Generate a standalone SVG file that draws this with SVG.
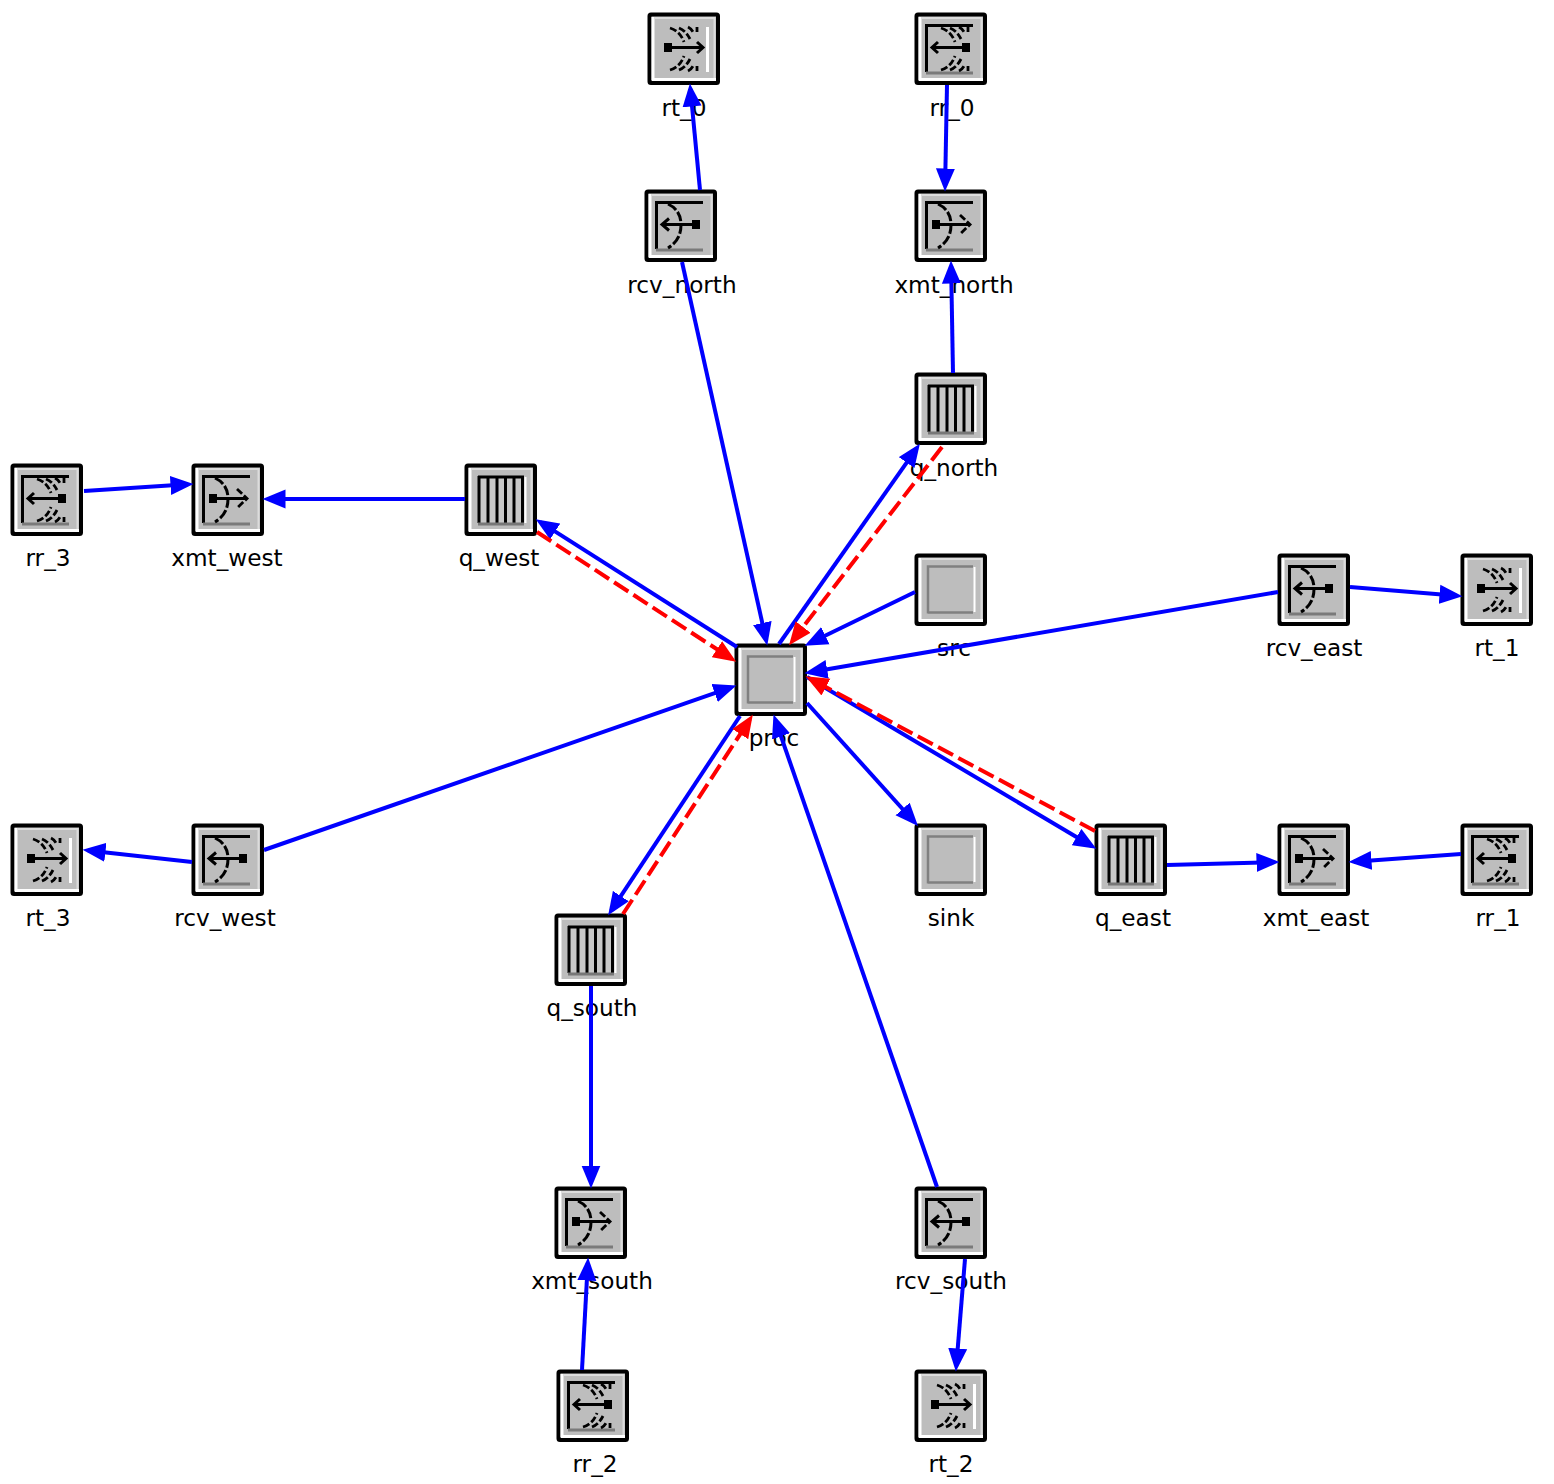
<svg xmlns="http://www.w3.org/2000/svg" xmlns:xlink="http://www.w3.org/1999/xlink" width="1554" height="1484" viewBox="0 0 1554 1484">
<style>
text{font-family:"DejaVu Sans","Liberation Sans",sans-serif;font-size:23.2px;fill:#000;text-anchor:middle}
.b{stroke:#0000ff;stroke-width:4;fill:none;marker-end:url(#ab)}
.r{stroke:#ff0000;stroke-width:4;fill:none;stroke-dasharray:17 6;marker-end:url(#ar)}
.k{stroke:#000;stroke-width:3;fill:none}
.d{stroke:#000;stroke-width:2.800;fill:none;stroke-dasharray:7 2.500}
.c{stroke:#000;stroke-width:3;fill:none;stroke-dasharray:10 2.500}
.f{stroke:#000;stroke-width:3;fill:none}
.g{stroke:#7a7a7a;stroke-width:3;fill:none}
</style>
<defs>
<marker id="ab" markerUnits="userSpaceOnUse" markerWidth="24" markerHeight="20" refX="17.500" refY="10" orient="auto"><path d="M0 0.500L23 10L0 19.500z" fill="#0000ff"/></marker>
<marker id="ar" markerUnits="userSpaceOnUse" markerWidth="24" markerHeight="20" refX="17.500" refY="10" orient="auto"><path d="M0 0.500L23 10L0 19.500z" fill="#ff0000"/></marker>
<g id="box">
<rect x="1.500" y="1.500" width="68.500" height="68.500" rx="1.500" fill="#bdbdbd" stroke="#000" stroke-width="4"/>
<path d="M4 66.500H68M5 4V67" stroke="#fff" stroke-width="3" fill="none"/>
<path d="M6 5H66.500V65" stroke="#dcdcdc" stroke-width="2" fill="none"/>
</g>
<g id="plain"><use xlink:href="#box"/>
<path d="M13 59.500V12.500H58M13 58.500H58" stroke="#808080" stroke-width="2.500" fill="none"/><path d="M59.500 13V58" stroke="#fff" stroke-width="2" fill="none"/></g>
<g id="queue"><use xlink:href="#box"/>
<rect x="14" y="12" width="46" height="47" fill="#c8c8c8"/>
<path d="M13 13H59M14 12V59M23 12V59M32 12V59M40.500 12V59M49 12V59M57.500 12V59" class="f"/>
<path d="M13 60H59" stroke="#777" stroke-width="3" fill="none"/><path d="M60.500 13V59" stroke="#fff" stroke-width="2" fill="none"/></g>
<g id="wav">
<path class="d" d="M26 15Q36 18 40 29M35 15Q42 18 46 26M44 14Q48 16 50 21M53 14V19M26 57Q36 54 40 43M35 57Q42 54 46 46M44 58Q48 56 50 51M53 58V53"/>
</g>
<g id="frame"><path class="f" d="M11.500 59V12.500H58"/><path class="g" d="M11 60H58"/></g>
<g id="rt"><use xlink:href="#box"/>
<path d="M59.500 14V59" stroke="#fff" stroke-width="3"/>
<path class="k" d="M20 34.500H55M49 29L55 34.500L49 40"/><rect x="16" y="30" width="8" height="9" fill="#000"/>
<use xlink:href="#wav" x="-4"/></g>
<g id="rr"><use xlink:href="#box"/><use xlink:href="#frame"/>
<path class="k" d="M17 34.500H52M23 29L17 34.500L23 40"/><rect x="47" y="30" width="8" height="9" fill="#000"/>
<use xlink:href="#wav"/></g>
<g id="rcv"><use xlink:href="#box"/><use xlink:href="#frame"/>
<path class="k" d="M17 34.500H52M24 28.500L17 34.500L24 40.500"/><rect x="47" y="30" width="8" height="9" fill="#000"/>
<path class="c" d="M23 14Q36 20 36 35Q36 50 23 58"/></g>
<g id="xmt"><use xlink:href="#box"/><use xlink:href="#frame"/>
<path class="k" d="M20 34.500H55"/><path class="d" d="M45 25L55 34.500L45 44"/><rect x="17" y="30" width="8" height="9" fill="#000"/>
<path class="c" d="M23 14Q36 20 36 35Q36 50 23 58"/></g>
</defs>
<g id="n-rt_0"><use xlink:href="#rt" x="648" y="13"/><text x="684" y="116">rt_0</text></g>
<g id="n-rr_0"><use xlink:href="#rr" x="915" y="13"/><text x="952" y="116">rr_0</text></g>
<g id="n-rcv_north"><use xlink:href="#rcv" x="645" y="190"/><text x="682" y="293">rcv_north</text></g>
<g id="n-xmt_north"><use xlink:href="#xmt" x="915" y="190"/><text x="954" y="293">xmt_north</text></g>
<g id="n-q_north"><use xlink:href="#queue" x="915" y="373"/><text x="954" y="476">q_north</text></g>
<g id="n-q_west"><use xlink:href="#queue" x="465" y="464"/><text x="499" y="566">q_west</text></g>
<g id="n-xmt_west"><use xlink:href="#xmt" x="192" y="464"/><text x="227" y="566">xmt_west</text></g>
<g id="n-rr_3"><use xlink:href="#rr" x="11" y="464"/><text x="48" y="566">rr_3</text></g>
<g id="n-src"><use xlink:href="#plain" x="915" y="554"/><text x="954" y="656">src</text></g>
<g id="n-rcv_east"><use xlink:href="#rcv" x="1278" y="554"/><text x="1314" y="656">rcv_east</text></g>
<g id="n-rt_1"><use xlink:href="#rt" x="1461" y="554"/><text x="1497" y="656">rt_1</text></g>
<g id="n-proc"><use xlink:href="#plain" x="735" y="644"/><text x="774" y="746">proc</text></g>
<g id="n-rt_3"><use xlink:href="#rt" x="11" y="824"/><text x="48" y="926">rt_3</text></g>
<g id="n-rcv_west"><use xlink:href="#rcv" x="192" y="824"/><text x="225" y="926">rcv_west</text></g>
<g id="n-sink"><use xlink:href="#plain" x="915" y="824"/><text x="951" y="926">sink</text></g>
<g id="n-q_east"><use xlink:href="#queue" x="1095" y="824"/><text x="1133" y="926">q_east</text></g>
<g id="n-xmt_east"><use xlink:href="#xmt" x="1278" y="824"/><text x="1316" y="926">xmt_east</text></g>
<g id="n-rr_1"><use xlink:href="#rr" x="1461" y="824"/><text x="1498" y="926">rr_1</text></g>
<g id="n-q_south"><use xlink:href="#queue" x="555" y="914"/><text x="592" y="1016">q_south</text></g>
<g id="n-xmt_south"><use xlink:href="#xmt" x="555" y="1187"/><text x="592" y="1289">xmt_south</text></g>
<g id="n-rcv_south"><use xlink:href="#rcv" x="915" y="1187"/><text x="951" y="1289">rcv_south</text></g>
<g id="n-rr_2"><use xlink:href="#rr" x="557" y="1370"/><text x="595" y="1472">rr_2</text></g>
<g id="n-rt_2"><use xlink:href="#rt" x="915" y="1370"/><text x="951" y="1472">rt_2</text></g>
<g id="connectors">
<path class="b" d="M700 190L690.400 89"/>
<path class="b" d="M947 85L945.100 186"/>
<path class="b" d="M682 262L766.100 640.100"/>
<path class="b" d="M953 373L951.100 266"/>
<path class="b" d="M779 644L916.700 448.300"/>
<path class="r" d="M942 447L792.400 640.800"/>
<path class="b" d="M737 647L540.400 522.100"/>
<path class="r" d="M537 532L731.600 658.800"/>
<path class="b" d="M465 499H268"/>
<path class="b" d="M84 491L188 484.300"/>
<path class="b" d="M915 592L809.600 643.300"/>
<path class="b" d="M1278 592L809.900 672.300"/>
<path class="b" d="M1350 587L1457 595.700"/>
<path class="b" d="M264 850L731.200 687.300"/>
<path class="b" d="M192 862L88 850.400"/>
<path class="b" d="M807 703L914.300 822"/>
<path class="b" d="M807 677L1091.600 846"/>
<path class="r" d="M1095 831L810.500 678.900"/>
<path class="b" d="M1167 865L1274 862.100"/>
<path class="b" d="M1461 854L1354 861.700"/>
<path class="b" d="M740 716L611.200 910.700"/>
<path class="r" d="M623 914L749.800 719.400"/>
<path class="b" d="M591 986V1183"/>
<path class="b" d="M937 1187L775.300 719.800"/>
<path class="b" d="M582 1370L587.800 1263"/>
<path class="b" d="M965 1259L956.300 1366"/>
</g>
</svg>
